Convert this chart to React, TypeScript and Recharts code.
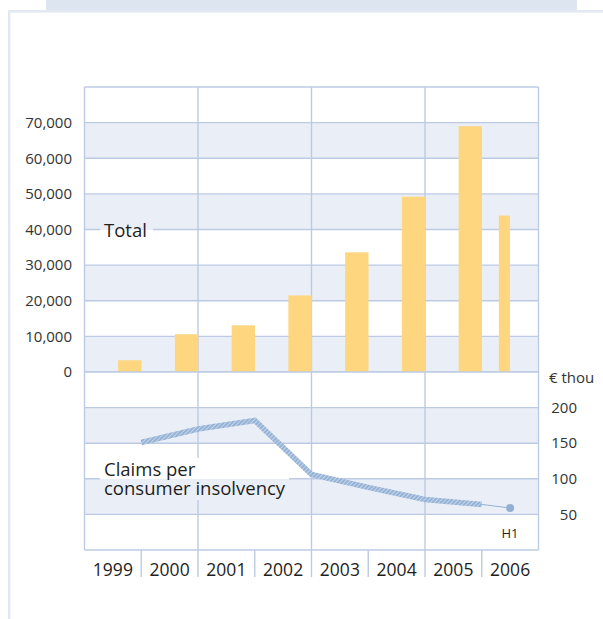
import React from 'react';
import { ComposedChart, Bar, Line, XAxis, YAxis, CartesianGrid } from 'recharts';

// ---------- data ----------
const YEARS = ['1999', '2000', '2001', '2002', '2003', '2004', '2005', '2006'];
const PERIODS = ['FY', 'FY', 'FY', 'FY', 'FY', 'FY', 'FY', 'H1'];
const TOTAL = [3300, 10600, 13100, 21500, 33600, 49200, 69000, 43900];
const TOTAL_TICKS = [0, 10000, 20000, 30000, 40000, 50000, 60000, 70000, 80000];
const GRID_START_YEARS = ['1999', '2001', '2003', '2005'];

// claims per consumer insolvency (€ thou), measured at period end
const CLAIM_TIMES = [1999.5, 2000.5, 2001.5, 2002.5, 2003.5, 2004.5, 2005.5];
const CLAIMS = [151, 170, 182, 106, 88, 71, 64];
const H1_TIME = 2006;
const H1_CLAIM = 59;
const CLAIM_TICKS = [0, 50, 100, 150, 200, 250];

const X_DOMAIN = [1998.5, 2006.5];
const GRID_X = [1998.5, 2000.5, 2002.5, 2004.5, 2006.5];
const YEAR_TICKS = [1999, 2000, 2001, 2002, 2003, 2004, 2005, 2006];
const BOUNDARIES = [1999.5, 2000.5, 2001.5, 2002.5, 2003.5, 2004.5, 2005.5];
const AXIS_TICKS = [...YEAR_TICKS, ...BOUNDARIES].sort((a, b) => a - b);

// ---------- styles ----------
const GRID = '#bccbe3';
const SHADE = '#eaeff7';
const BAR = '#fdd67f';
const TEXT = '#1e1e1e';
const AXIS_TEXT = '#333333';
const LINE_DARK = '#93b0d4';
const LINE_LIGHT = '#c4d5ea';
const FONT = "'Open Sans', sans-serif";

const barData = YEARS.map((year, i) => ({ year, total: TOTAL[i], period: PERIODS[i] }));

const lineData = [
  ...CLAIM_TIMES.map((t, i) => ({
    t,
    claims: CLAIMS[i],
    h1: i === CLAIM_TIMES.length - 1 ? CLAIMS[i] : null,
  })),
  { t: H1_TIME, claims: null, h1: H1_CLAIM },
];

function BarShape(props: any) {
  const { x, y, width, height, payload } = props;
  const half = payload.period === 'H1';
  const left = x + width * (half ? 0.3 : 0.59);
  const w = width * (half ? 0.195 : 0.41);
  return <rect x={left} y={y} width={w} height={Math.max(0, height)} fill={BAR} />;
}

// vertical grid lines at the start of every second category band, plus the right edge
function topVerticals(args: any) {
  const { offset } = args;
  const band = offset.width / YEARS.length;
  const pts = GRID_START_YEARS.map((y) => offset.left + YEARS.indexOf(y) * band);
  pts.push(offset.left + offset.width);
  return pts;
}

function RightTick(props: any) {
  const { x, y, payload } = props;
  const v = payload.value;
  if (v === 0) return <g />;
  if (v === 250)
    return (
      <text x={x - 28} y={y + 6} dy="0.35em" textAnchor="start" fontSize={15} fill={AXIS_TEXT} fontFamily={FONT}>
        € thou
      </text>
    );
  return (
    <text x={x} y={y} dy="0.35em" textAnchor="end" fontSize={15} fill={AXIS_TEXT} fontFamily={FONT}>
      {v}
    </text>
  );
}

function YearTick(props: any) {
  const { x, y, payload } = props;
  const v = payload.value;
  if (Number.isInteger(v)) {
    return (
      <text x={x} y={y + 13.6} dy="0.71em" textAnchor="middle" fontSize={17.5} fill={TEXT} fontFamily={FONT}>
        {v}
      </text>
    );
  }
  return <line x1={x} x2={x} y1={y} y2={y + 27} stroke={GRID} strokeWidth={1.4} />;
}

function H1Dot(props: any) {
  const { cx, cy, payload, index } = props;
  if (payload && payload.t === H1_TIME) {
    return <circle key={`d${index}`} cx={cx} cy={cy} r={4} fill={LINE_DARK} stroke="none" />;
  }
  return <g key={`d${index}`} />;
}

export default function App() {
  return (
    <div
      style={{
        position: 'absolute',
        left: 0,
        top: 0,
        width: 603,
        height: 619,
        background: '#fff',
        fontFamily: FONT,
        overflow: 'hidden',
      }}
    >
      {/* page frame */}
      <svg width={603} height={619} style={{ position: 'absolute', left: 0, top: 0 }}>
        <rect x={46} y={0} width={531} height={10} fill="#dde5f0" />
        <rect x={8} y={10} width={595} height={2.6} fill="#e3e9f2" />
        <rect x={8} y={10} width={2.4} height={609} fill="#e3e9f2" />
      </svg>

      {/* top: totals */}
      <div style={{ position: 'absolute', left: 0, top: 0 }}>
        <ComposedChart
          width={603}
          height={392}
          data={barData}
          margin={{ top: 87, right: 64.5, bottom: 20, left: 24.5 }}
          barCategoryGap={0}
          barGap={0}
        >
          <CartesianGrid
            yAxisId="total"
            stroke={GRID}
            strokeWidth={1.4}
            horizontalFill={['#ffffff', SHADE]}
            fillOpacity={1}
            verticalCoordinatesGenerator={topVerticals}
          />
          <XAxis dataKey="year" type="category" hide height={0} padding={{ left: 0, right: 0 }} />
          <YAxis
            yAxisId="total"
            width={60}
            domain={[0, 80000]}
            ticks={TOTAL_TICKS}
            allowDataOverflow
            axisLine={false}
            tickLine={false}
            tickSize={0}
            tickMargin={12.5}
            interval={0}
            tick={{ fontSize: 15, fill: AXIS_TEXT, fontFamily: FONT }}
            tickFormatter={(v: number) => (v === 80000 ? '' : v.toLocaleString('en-US'))}
          />
          <Bar yAxisId="total" dataKey="total" shape={BarShape} isAnimationActive={false} />
        </ComposedChart>
      </div>

      {/* bottom: claims per insolvency */}
      <div style={{ position: 'absolute', left: 0, top: 355 }}>
        <ComposedChart width={603} height={264} data={lineData} margin={{ top: 17, right: 0, bottom: 29, left: 84.5 }}>
          <defs>
            <pattern id="hatch" patternUnits="userSpaceOnUse" width={3} height={3} patternTransform="rotate(45)">
              <rect x={0} y={0} width={3} height={3} fill={LINE_DARK} />
              <rect x={0} y={0} width={1.1} height={3} fill={LINE_LIGHT} />
            </pattern>
          </defs>
          <CartesianGrid
            yAxisId="claims"
            stroke={GRID}
            strokeWidth={1.4}
            horizontalFill={['#ffffff', SHADE]}
            fillOpacity={1}
          />
          <XAxis dataKey="t" type="number" domain={X_DOMAIN} ticks={GRID_X} allowDataOverflow hide height={0} />
          <XAxis
            xAxisId="lab"
            dataKey="t"
            type="number"
            domain={X_DOMAIN}
            ticks={AXIS_TICKS}
            allowDataOverflow
            height={40}
            axisLine={false}
            tickLine={false}
            tickSize={0}
            tickMargin={0}
            interval={0}
            tick={YearTick}
          />
          <YAxis
            yAxisId="claims"
            orientation="right"
            width={64.5}
            domain={[0, 250]}
            ticks={CLAIM_TICKS}
            allowDataOverflow
            axisLine={false}
            tickLine={false}
            tickSize={0}
            tickMargin={38.5}
            interval={0}
            tick={RightTick}
          />
          <Line
            yAxisId="claims"
            dataKey="claims"
            type="linear"
            stroke="url(#hatch)"
            strokeWidth={5.5}
            strokeLinejoin="miter"
            strokeLinecap="butt"
            dot={false}
            activeDot={false}
            connectNulls={false}
            isAnimationActive={false}
          />
          <Line
            yAxisId="claims"
            dataKey="h1"
            type="linear"
            stroke={LINE_DARK}
            strokeWidth={1}
            dot={H1Dot}
            activeDot={false}
            connectNulls={false}
            isAnimationActive={false}
          />
        </ComposedChart>
      </div>

      {/* annotations */}
      <div
        style={{
          position: 'absolute',
          left: 100,
          top: 221,
          width: 53,
          height: 18,
          background: `linear-gradient(to bottom, ${SHADE} 0px, ${SHADE} 8.7px, #ffffff 8.7px, #ffffff 100%)`,
          fontSize: 18.5,
          lineHeight: '18px',
          color: TEXT,
          paddingLeft: 4,
          boxSizing: 'border-box',
          whiteSpace: 'nowrap',
        }}
      >
        Total
      </div>
      <div
        style={{
          position: 'absolute',
          left: 100,
          top: 458,
          width: 189,
          height: 42,
          background: `linear-gradient(to bottom, #ffffff 0px, #ffffff 21px, ${SHADE} 21px, ${SHADE} 100%)`,
          fontSize: 18.5,
          lineHeight: '19px',
          color: TEXT,
          paddingLeft: 4,
          paddingTop: 1.3,
          boxSizing: 'border-box',
          whiteSpace: 'nowrap',
        }}
      >
        <div>Claims per</div>
        <div>consumer insolvency</div>
      </div>
      <div
        style={{
          position: 'absolute',
          left: 498,
          top: 527,
          width: 24,
          textAlign: 'center',
          fontSize: 13,
          lineHeight: '13px',
          color: TEXT,
        }}
      >
        H1
      </div>
    </div>
  );
}
